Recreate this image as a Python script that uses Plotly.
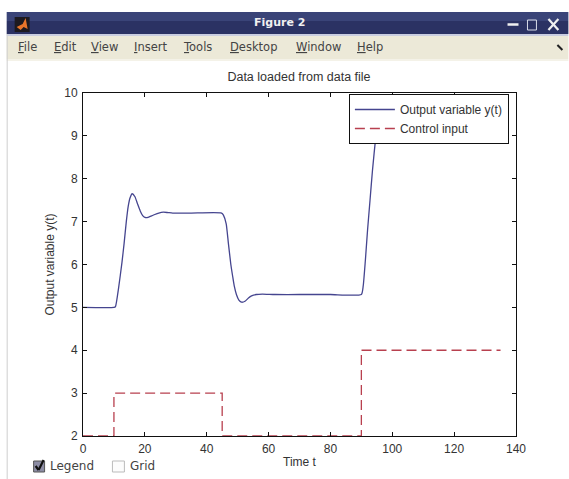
import plotly.graph_objects as go

W, H = 569, 479
L, R, T, B = 82.5, 516.5, 93, 436

time_y = [0, 10, 10.5, 11.5, 12.6, 13.3, 14, 14.6, 15.2, 15.9, 16.8, 17.6, 18.5, 19.3, 20, 21, 22, 23, 24.5, 26, 27.5, 29, 35, 44.8, 45.4, 46.3, 47, 47.8, 48.4, 48.9, 49.6, 50.4, 51.3, 52.5, 53.5, 54.5, 56, 58, 62, 70, 80, 90, 90.6, 91.3, 92, 92.8, 93.6, 94.7, 95.4, 96, 97, 98, 100, 105, 115, 125, 135]
output_y = [5, 5, 5.02, 5.45, 6.05, 6.5, 7, 7.35, 7.55, 7.65, 7.58, 7.42, 7.25, 7.14, 7.1, 7.1, 7.13, 7.16, 7.2, 7.22, 7.21, 7.2, 7.2, 7.2, 7.15, 6.95, 6.5, 6, 5.72, 5.5, 5.3, 5.17, 5.12, 5.15, 5.22, 5.27, 5.3, 5.31, 5.3, 5.3, 5.3, 5.3, 5.5, 6.1, 6.8, 7.5, 8.2, 9, 9.4, 9.7, 9.8, 9.7, 9.5, 9.4, 9.4, 9.4, 9.4]
time_u = [0, 10, 10, 45, 45, 90, 90, 135]
control_u = [2, 2, 3, 3, 2, 2, 4, 4]
x_ticks = [0, 20, 40, 60, 80, 100, 120, 140]
y_ticks = [2, 3, 4, 5, 6, 7, 8, 9, 10]
menu_items = [("<u>F</u>ile", 15), ("<u>E</u>dit", 51), ("<u>V</u>iew", 89), ("<u>I</u>nsert", 132),
              ("<u>T</u>ools", 181), ("<u>D</u>esktop", 228), ("<u>W</u>indow", 294), ("<u>H</u>elp", 355)]

def px(x): return (x - L) / (R - L)
def py(y): return (B - y) / (B - T)

shapes, ann = [], []
def rect(x0, y0, x1, y1, fill, line=None, lw=0):
    shapes.append(dict(type="rect", xref="paper", yref="paper", x0=px(x0), x1=px(x1), y0=py(y0), y1=py(y1),
                       fillcolor=fill, line=dict(color=line or fill, width=lw), layer="below"))
def seg(x0, y0, x1, y1, color, lw=1):
    shapes.append(dict(type="line", xref="paper", yref="paper", x0=px(x0), x1=px(x1), y0=py(y0), y1=py(y1),
                       line=dict(color=color, width=lw)))
def text(s, x, y, size=11, color="#222", fam="Liberation Sans", anchor="left"):
    ann.append(dict(text=s, xref="paper", yref="paper", x=px(x), y=py(y), xanchor=anchor, yanchor="middle",
                    showarrow=False, font=dict(size=size, color=color, family=fam)))

# window frame
rect(6, 12, W, 21, "#3a4478")
rect(6, 21, W, 34, "#2b3263")
rect(6, 34, W, 36, "#c9cde0")
rect(6, 36, W, 59, "#ece9d8")
rect(6, 59, W, 61, "#f4f2e8")
seg(6.5, 34, 6.5, H, "#cfcfcf", 1)
# title bar contents
text("<b>Figure 2</b>", 279, 22.5, 11, "#f0f0f0", "DejaVu Sans", "center")
rect(14, 17, 29, 32, "#1d1a20")
shapes.append(dict(type="path", xref="paper", yref="paper", layer="above", fillcolor="#e8752a", line=dict(width=0),
    path=f"M {px(16)} {py(27)} L {px(22)} {py(24)} L {px(25)} {py(18)} L {px(27)} {py(29)} L {px(23)} {py(27)} L {px(20)} {py(30)} Z"))
seg(508, 24.5, 519, 24.5, "#f0f0f0", 2.5)
rect(528, 20, 537, 30, "rgba(0,0,0,0)", "#d8dbe8", 1)
seg(549, 19, 559, 30, "#f0f0f0", 2.2)
seg(559, 19, 549, 30, "#f0f0f0", 2.2)
# menu
for label, x in menu_items:
    text(label, x, 47.5, 11.5, "#444", "DejaVu Sans")
seg(558, 45, 563, 50, "#222", 2)
# bottom controls
rect(33, 461, 44, 472, "#8d8da5", "#555", 1)
seg(35, 466, 38, 470, "#111", 2.2)
seg(38, 470, 43, 460, "#111", 2.2)
text("Legend", 47, 466.5, 12, "#444", "DejaVu Sans")
rect(112, 461, 124, 472, "#fcfcfc", "#bbb", 1)
text("Grid", 128, 466.5, 12, "#444", "DejaVu Sans")

fig = go.Figure()
fig.add_trace(go.Scatter(x=time_y, y=output_y, mode="lines", name="Output variable y(t)",
                         line=dict(color="#45458f", width=1.3, shape="spline", smoothing=0.5)))
fig.add_trace(go.Scatter(x=time_u, y=control_u, mode="lines", name="Control input",
                         line=dict(color="#b8404f", width=1.3, dash="10px,5px")))
axis = dict(ticks="inside", ticklen=4, tickcolor="#111", showline=True, linecolor="#111", linewidth=1,
            mirror="ticks", showgrid=False, zeroline=False, tickfont=dict(size=12, color="#333"),
            title_font=dict(size=12, color="#333"), ticklabelstandoff=2, automargin=False)
fig.update_layout(
    width=W, height=H, margin=dict(l=L, r=W - R, t=T, b=H - B),
    paper_bgcolor="white", plot_bgcolor="white", font=dict(family="Liberation Sans"),
    title=dict(text="Data loaded from data file", x=px(299), xref="paper", xanchor="center",
               y=1 - 77 / H, yanchor="middle", font=dict(size=12.5, color="#333")),
    xaxis=dict(axis, range=[0, 140], tickvals=x_ticks,
               title=dict(text="Time t", standoff=2)),
    yaxis=dict(axis, range=[2, 10], tickvals=y_ticks,
               title=dict(text="Output variable y(t)", standoff=7)),
    legend=dict(x=px(349), y=py(94), xanchor="left", yanchor="top", bgcolor="white", bordercolor="#111",
                borderwidth=1, itemwidth=40, font=dict(size=12, color="#333"), tracegroupgap=0,
                entrywidth=136, entrywidthmode="pixels"),
    shapes=shapes, annotations=ann,
)
fig.write_html("out.html", config=dict(displayModeBar=False), post_script="document.body.style.margin='0';")
